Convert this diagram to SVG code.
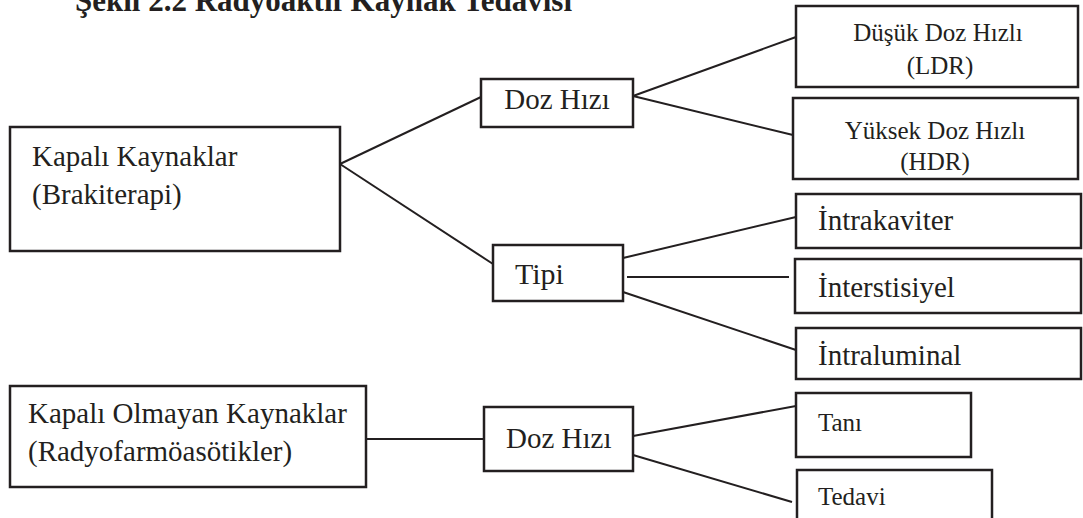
<svg xmlns="http://www.w3.org/2000/svg" width="1083" height="518" viewBox="0 0 1083 518">
<style>
  .box { fill: #ffffff; stroke: #231f20; stroke-width: 2.5; }
  .t { font-family: "Liberation Serif", "Times New Roman", serif; fill: #231f20; font-size: 29px; }
  .s { font-size: 25px; }
  .c { text-anchor: middle; }
  .title { font-family: "Liberation Serif", "Times New Roman", serif; fill: #231f20; font-size: 31px; font-weight: bold; }
  .conn line { stroke: #231f20; stroke-width: 2; }
</style>
<rect width="1083" height="518" fill="#ffffff"/>
<text class="title" x="75" y="11">Şekil 2.2 Radyoaktif Kaynak Tedavisi</text>
<g id="connectors" class="conn">
  <line x1="340" y1="164" x2="481" y2="97"/>
  <line x1="340" y1="164" x2="493" y2="264"/>
  <line x1="633" y1="96" x2="796" y2="37"/>
  <line x1="633" y1="96" x2="793" y2="135"/>
  <line x1="623" y1="258" x2="796" y2="217"/>
  <line x1="627" y1="277" x2="789" y2="277"/>
  <line x1="623" y1="292" x2="796" y2="350"/>
  <line x1="366" y1="439" x2="484" y2="439"/>
  <line x1="633" y1="436" x2="796" y2="406"/>
  <line x1="633" y1="455" x2="792" y2="502"/>
</g>
<g id="kapali">
  <rect class="box" x="10" y="127" width="330" height="124"/>
  <text class="t" x="32" y="166">Kapalı Kaynaklar</text>
  <text class="t" x="32" y="204">(Brakiterapi)</text>
</g>
<g id="dozhizi1">
  <rect class="box" x="481" y="79" width="152" height="48"/>
  <text class="t c" x="557" y="109">Doz Hızı</text>
</g>
<g id="ldr">
  <rect class="box" x="796" y="6" width="282" height="81"/>
  <text class="t s c" x="938" y="41">Düşük Doz Hızlı</text>
  <text class="t s c" x="940" y="74">(LDR)</text>
</g>
<g id="hdr">
  <rect class="box" x="793" y="98" width="285" height="81"/>
  <text class="t s c" x="935" y="139">Yüksek Doz Hızlı</text>
  <text class="t s c" x="935" y="170">(HDR)</text>
</g>
<g id="tipi">
  <rect class="box" x="493" y="245" width="130" height="56"/>
  <text class="t" x="515" y="284" style="font-size:30px">Tipi</text>
</g>
<g id="intrakaviter">
  <rect class="box" x="796" y="194" width="285" height="54"/>
  <text class="t" x="818" y="230">İntrakaviter</text>
</g>
<g id="interstisiyel">
  <rect class="box" x="795" y="259" width="286" height="54"/>
  <text class="t" x="818" y="297">İnterstisiyel</text>
</g>
<g id="intraluminal">
  <rect class="box" x="796" y="328" width="285" height="51"/>
  <text class="t" x="818" y="365">İntraluminal</text>
</g>
<g id="kapaliolmayan">
  <rect class="box" x="10" y="386" width="356" height="101"/>
  <text class="t" x="28" y="423">Kapalı Olmayan Kaynaklar</text>
  <text class="t" x="28" y="461">(Radyofarmöasötikler)</text>
</g>
<g id="dozhizi2">
  <rect class="box" x="484" y="407" width="149" height="64"/>
  <text class="t" x="506" y="448">Doz Hızı</text>
</g>
<g id="tani">
  <rect class="box" x="796" y="393" width="175" height="64"/>
  <text class="t s" x="818" y="431">Tanı</text>
</g>
<g id="tedavi">
  <rect class="box" x="797" y="470" width="195" height="60"/>
  <text class="t s" x="818" y="505">Tedavi</text>
</g>
</svg>
